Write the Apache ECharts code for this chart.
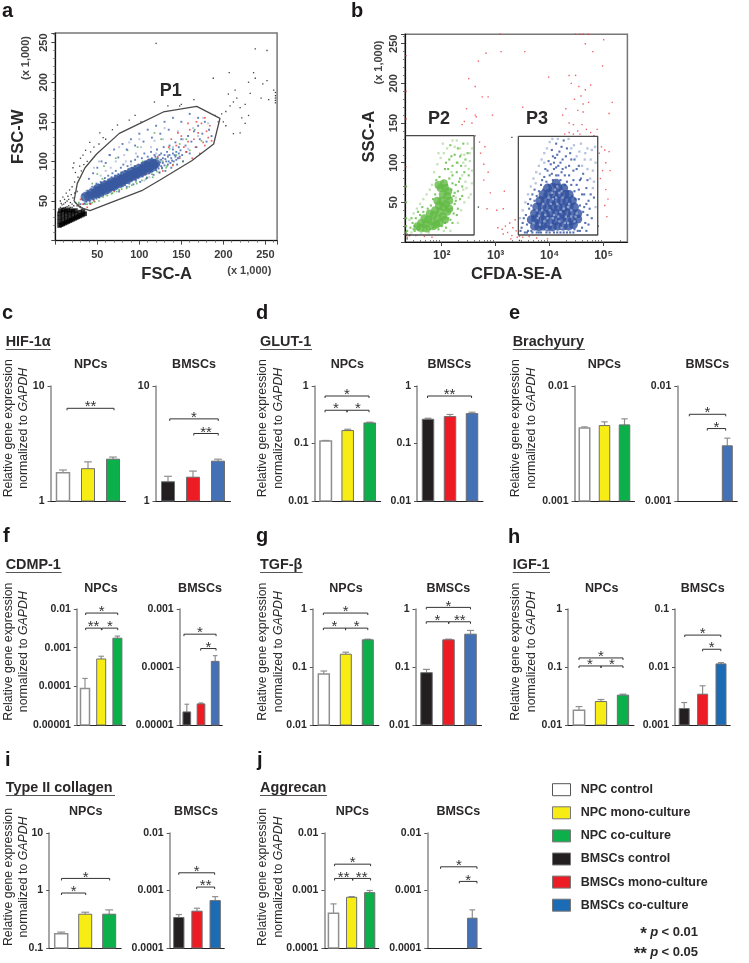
<!DOCTYPE html>
<html><head><meta charset="utf-8">
<style>html,body{margin:0;padding:0;background:#fff}#c{width:749px;height:963px}</style>
<script src="https://cdn.jsdelivr.net/npm/echarts@6/dist/echarts.min.js"></script>
</head><body><div id="c"></div>
<script>
/* ---------- groups ---------- */
const categories=['NPC control','NPC mono-culture','NPC co-culture','BMSCs control','BMSCs mono-culture','BMSCs co-culture'];
/* ---------- bar values and upper error limits ---------- */
const hifNpc=[1.76,1.91,2.31], hifNpcErr=[1.86,2.19,2.41];
const hifBm=[1.47,1.61,2.22], hifBmErr=[1.64,1.82,2.31];
const glutNpc=[0.11,0.168,0.228], glutNpcErr=[0.113,0.177,0.235];
const glutBm=[0.264,0.294,0.331], glutBmErr=[0.275,0.32,0.35];
const braNpc=[0.00432,0.00453,0.00459], braNpcErr=[0.00441,0.00488,0.00518];
const braBm=[null,null,0.00302], braBmErr=[null,null,0.00352];
const cdmpNpc=[0.000088,0.00051,0.00176], cdmpNpcErr=[0.00016,0.0006,0.00199];
const cdmpBm=[0.0000168,0.0000231,0.000125], cdmpBmErr=[0.0000228,0.000024,0.000157];
const tgfNpc=[0.0757,0.166,0.294], tgfNpcErr=[0.0853,0.18,0.302];
const tgfBm=[0.0798,0.294,0.368], tgfBmErr=[0.091,0.302,0.427];
const igfNpc=[0.018,0.0254,0.0327], igfNpcErr=[0.0208,0.0275,0.034];
const igfBm=[0.00192,0.0034,0.0113], igfBmErr=[0.00244,0.00474,0.0119];
const colNpc=[0.177,0.387,0.387], colNpcErr=[0.189,0.419,0.46];
const colBm=[0.000339,0.000437,0.000667], colBmErr=[0.000382,0.000492,0.000782];
const aggNpc=[0.000403,0.000762,0.000918], aggNpcErr=[0.000585,0.000782,0.001];
const aggBm=[null,null,0.00033], aggBmErr=[null,null,0.00046];
/* ---------- significance brackets: from, to (group units), level (share of axis height), stars ---------- */
const hifNpcSig=[[.16,2.04,.806,'**']];
const hifBmSig=[[.07,2.01,.714,'*'],[1.03,2.01,.587,'**']];
const glutNpcSig=[[-.03,1.97,.913,'*'],[-.03,.97,.789,'*'],[.97,1.97,.789,'*']];
const glutBmSig=[[-.02,1.98,.913,'**']];
const braBmSig=[[.1,1.92,.754,'*'],[1,1.92,.63,'*']];
const cdmpNpcSig=[[.04,2.02,.965,'*'],[.04,1.01,.835,'**'],[1.05,2.02,.835,'*']];
const cdmpBmSig=[[-.2,2.06,.783,'*'],[.98,2.06,.659,'*']];
const tgfNpcSig=[[-.02,2,.965,'*'],[-.02,.99,.835,'*'],[.99,2,.835,'*']];
const tgfBmSig=[[-.01,2,1.014,'*'],[-.01,1,.89,'*'],[1.02,2,.89,'**']];
const igfNpcSig=[[0,2,.578,'*'],[0,1,.509,'*'],[1,2,.509,'*']];
const igfBmSig=[[.03,1.99,.775,'*'],[1,1.99,.653,'*']];
const colNpcSig=[[.01,2.02,.605,'*'],[.01,1.02,.478,'*']];
const colBmSig=[[0,1.97,.654,'*'],[.98,1.97,.53,'**']];
const aggNpcSig=[[.06,2.05,.729,'*'],[.06,1.06,.605,'**'],[1.06,2.05,.605,'**']];
const aggBmSig=[[.24,2.26,.706,'*'],[1.28,2.26,.579,'*']];
/* ---------- tick labels ---------- */
const t1_10=['1','10'], t001_1=['0.01','0.1','1'], t0001_001=['0.001','0.01'], t5_2=['0.00001','0.0001','0.001','0.01'],
 t5_3=['0.00001','0.0001','0.001'], t001_01=['0.001','0.01','0.1'], t01_10=['0.1','1','10'], t4_2=['0.0001','0.001','0.01'];
const cfdaMajor=[2,3,4,5], cfdaLabels=['10²','10³','10⁴','10⁵'];
const cfdaMinor=[1.48,1.6,1.7,1.78,1.85,1.9,1.95,2.3,2.48,2.6,2.7,2.78,2.85,2.9,2.95,3.3,3.48,3.6,3.7,3.78,3.85,3.9,3.95,4.3,4.48,4.6,4.7,4.78,4.85,4.9,4.95,5.3];
/* ---------- flow gates ---------- */
const gateP1=[[22.3,50],[26.2,72.3],[35.4,92],[49.2,109.3],[76.2,135.4],[100.8,148],[128.6,162.4],[168.3,169.5],[196,154.4],[188.5,122],[162.4,100.9],[124.6,76.5],[102.8,63],[41.3,37.8],[29.4,42],[22.3,50]];
const gateP2=[[1.33,134],[2.6,134],[2.6,8.8],[1.33,8.8]];
const gateP3=[[3.42,133.3],[4.89,133.3],[4.89,8.8],[3.42,8.8],[3.42,133.3]];
/* ---------- panel a: FSC-A / FSC-W events, estimated by eye ---------- */
const aBlackDense=[[5,19],[7,20],[9,21],[11,22],[13,23],[15,24],[17,25],[19,26],[21,27],[23,28],[25,29],[27,30],[29,31],[31,32],[33,33],[35,34],[5,24],[5,29],[5,34],[9,26],[9,31],[9,36],[13,28],[13,33],[13,37],[17,30],[17,35],[21,32],[21,37],[25,34],[29,36],[33,37],[6,38],[10,39],[15,39],[19,38],[24,38]];
const aBlackSparse=[[6,42],[8,45],[10,41],[12,48],[14,43],[16,52],[18,42],[20,46],[22,44],[24,48],[7,47],[11,52],[15,56],[19,58],[9,55],[13,60],[21,54],[23,60],[17,64],[20,68],[26,62],[23,74],[27,80],[24,86],[31,88],[29,94],[34,96],[30,104],[22,98],[21,92],[38,100],[33,108],[36,114],[42,112],[46,118],[41,124],[52,122],[57,130],[53,136],[68,140],[74,146],[60,128],[88,152],[95,158],[118,175],[102,150],[134,170],[150,172],[165,178],[120,249],[148,170],[198,160],[190,158],[203,163],[208,170],[212,175],[206,185],[216,180],[220,168],[214,190],[226,172],[232,186],[238,205],[230,200],[252,202],[247,198],[238,242],[252,240],[236,212],[207,212],[188,205],[203,145],[212,135],[220,136],[194,150],[245,180],[254,178],[262,174],[262,177],[262,180],[262,183],[262,187],[260,190],[200,150],[222,155],[230,158],[226,148],[8,40],[12,42],[16,44],[20,42],[26,44],[30,43],[32,41],[28,46],[18,48],[6,50],[10,46],[14,50]];
const aPale=[[36,62],[42,66],[48,70],[54,82],[60,88],[66,92],[72,100],[78,86],[84,100],[90,96],[96,110],[102,118],[108,100],[114,118],[120,110],[128,128],[134,108],[140,118],[146,138],[152,128],[158,116],[164,142],[170,132],[176,155],[182,148],[46,92],[52,100],[58,76],[64,108],[70,78],[76,118],[82,108],[88,124],[94,88],[100,128],[106,76],[112,80],[118,126],[124,102],[130,142]];
const aGreen=[[28,48],[32,52],[36,46],[40,62],[44,48],[48,66],[52,54],[56,78],[60,58],[64,76],[68,60],[72,82],[76,64],[80,70],[84,88],[88,68],[92,92],[96,74],[100,84],[104,100],[108,78],[112,90],[116,80],[120,104],[124,86],[128,100],[132,92],[136,116],[140,96],[144,108],[148,122],[152,100],[156,128],[160,114],[166,140],[174,126],[98,118],[86,114],[72,104],[118,136],[126,128],[58,94],[50,84],[44,72],[62,70],[80,82],[94,94],[106,94],[114,102],[122,96],[34,46],[38,46],[42,47],[47,49],[52,50],[57,55],[62,57],[67,59],[73,62],[79,65],[85,66],[91,70],[97,72],[103,76],[109,80],[115,84],[121,87],[127,91],[133,94]];
const aRed=[[28,44],[33,46],[38,42],[46,50],[30,52],[42,46],[62,68],[70,62],[82,72],[95,78],[108,84],[122,106],[128,88],[135,118],[140,95],[144,120],[148,104],[150,132],[153,118],[156,112],[158,125],[160,140],[163,104],[165,128],[167,118],[170,136],[172,110],[174,148],[176,124],[178,120],[180,138],[182,130],[184,145],[186,126],[178,155],[168,150],[158,148],[146,136],[138,128]];
const aBlue=[[30,46],[33,58],[35,47],[38,63],[41,50],[44,68],[46,52],[49,72],[52,55],[54,74],[57,58],[59,79],[62,60],[63,82],[66,62],[68,85],[70,64],[72,88],[74,66],[76,62],[78,92],[79,69],[81,96],[83,70],[85,68],[86,94],[88,72],[90,100],[91,75],[93,71],[95,102],[96,76],[98,106],[99,79],[101,74],[103,104],[104,81],[106,110],[107,83],[109,79],[110,106],[112,85],[114,112],[115,87],[117,83],[118,108],[120,89],[121,115],[123,91],[124,86],[126,110],[127,92],[129,118],[130,95],[131,88],[133,112],[134,96],[136,120],[137,98],[138,92],[140,115],[141,100],[143,124],[144,102],[145,96],[147,118],[148,106],[150,128],[151,108],[152,100],[155,120],[156,112],[158,132],[160,110],[162,125],[165,138],[168,118],[170,145],[172,128],[175,135],[178,150],[180,125],[183,140],[186,132],[40,78],[45,85],[50,92],[55,100],[60,98],[65,108],[70,115],[75,105],[80,122],[85,115],[90,128],[95,120],[100,135],[105,125],[110,140],[115,130],[120,145],[125,135],[130,150],[135,140],[140,155],[150,150],[160,160],[170,155],[122,98],[126,102],[128,104],[132,100],[134,106],[136,108],[138,104],[140,110],[126,94],[124,108],[120,100],[118,102],[130,108],[142,108],[144,112],[110,96],[106,98],[102,94],[98,92],[94,90],[90,88],[86,86],[82,84],[78,82],[74,80],[70,78],[66,76],[62,74],[58,72],[54,70],[50,68],[46,64],[42,60],[48,55],[56,60],[64,64],[72,68],[80,73],[88,76],[96,81],[104,85],[112,89],[120,94],[128,98],[131,103],[135,100],[139,101],[143,106],[147,110],[149,114],[146,104],[125,99],[122,104],[119,106],[115,104],[111,102],[107,100],[103,98],[99,96],[95,94],[91,92],[87,90],[83,88],[79,86],[75,84],[71,82],[67,80],[63,77],[59,75],[55,73],[51,71],[47,68],[43,65],[39,60],[37,49],[41,47],[45,52],[49,53],[53,57],[58,61],[63,62],[68,66],[73,69],[77,70],[82,75],[87,77],[92,78],[97,82],[102,84],[107,87],[113,90],[118,92],[123,96]];
const aBlueDense=[[36,55],[40,56],[43,59],[47,59],[50,62],[54,63],[57,66],[61,67],[64,69],[68,70],[71,73],[75,74],[78,76],[82,77],[85,80],[88,81],[92,83],[95,85],[98,86],[102,88],[105,90],[108,92],[112,93],[116,96],[119,97]];
const aBlueCore=[[52,63],[60,67],[68,71],[76,75],[84,80],[92,84],[100,88],[108,92],[114,95]];
/* ---------- panel b: CFDA-SE-A (log10) / SSC-A events, estimated by eye ---------- */
const bGreenDense=[[1.55,20],[1.62,24],[1.7,22],[1.75,28],[1.82,26],[1.85,34],[1.92,30],[1.88,40],[1.97,38],[2.02,32],[1.95,46],[2.03,44],[2,52],[2.08,48],[2.02,60],[2.1,58],[1.98,68],[2.06,68],[1.94,72],[1.68,30],[1.78,36],[2.1,38],[1.9,22],[2.14,52],[1.6,18],[1.72,17],[1.84,20],[1.96,24],[2.06,28],[2.14,42],[2.12,64],[2.04,74],[1.92,52]];
const bGreenMid=[[1.36,14],[1.42,18],[1.46,24],[1.5,14],[1.52,30],[1.58,16],[1.6,34],[1.65,14],[1.66,38],[1.72,16],[1.74,42],[1.78,16],[1.8,46],[1.84,18],[1.84,54],[1.88,60],[1.9,78],[1.94,16],[1.96,82],[2,20],[2.02,76],[2.06,24],[2.1,72],[2.12,30],[2.14,80],[2.18,42],[2.18,66],[2.22,58],[2.24,48],[2.26,72],[2.28,88],[2.3,64],[2.34,80],[2.36,96],[2.38,70],[2.42,88],[2.44,104],[2.2,96],[2.14,104],[2.06,92],[2.3,118],[2.24,110],[2.16,122],[2.4,124],[2.48,112],[2.5,84],[2.34,54],[2.28,34],[2.2,24],[1.34,50],[1.34,30],[1.34,70],[1.34,20],[1.34,12],[2.2,74],[2.24,62],[2.18,56],[2.22,36],[2.26,52],[2.3,42],[2.16,28],[2.08,18],[2.32,76],[2.38,58],[2.2,84],[2.12,92],[2.28,100],[2.34,108],[2.18,108],[2.08,100],[1.5,20],[1.44,30],[1.56,38],[1.48,16],[1.64,44]];
const bGreenPale=[[1.4,28],[1.44,12],[1.48,36],[1.54,42],[1.6,48],[1.66,54],[1.72,60],[1.78,66],[1.82,72],[1.86,88],[1.92,98],[1.98,106],[2.04,112],[2.1,118],[2.2,128],[2.28,128],[2.36,110],[2.44,96],[2.52,102],[2.56,74],[2.54,60],[2.46,68],[2.42,50],[2.36,40],[2.3,24],[2.16,14],[2.04,14],[1.76,12],[1.62,12],[2.48,124],[2.56,118],[2.18,88],[2.3,100],[2.38,84],[2.5,92],[2.26,56],[2.44,76],[2.5,56],[2.4,66],[2.34,118],[2.42,110],[2.24,120],[2.02,124],[1.94,112],[2.56,90],[2.52,112],[2.4,100]];
const bBlueDense=[[3.72,20],[3.8,19],[3.88,20],[3.96,19],[4.05,19],[4.15,20],[4.25,20],[4.35,20],[4.44,22],[3.66,28],[3.74,29],[3.82,27],[3.92,29],[4.02,28],[4.12,27],[4.22,29],[4.32,28],[4.42,27],[4.52,29],[3.72,36],[3.82,37],[3.92,35],[4.02,37],[4.12,36],[4.22,35],[4.32,37],[4.42,36],[4.52,36],[3.76,44],[3.86,45],[3.96,43],[4.06,45],[4.16,44],[4.26,43],[4.36,45],[4.46,44],[3.82,52],[3.92,53],[4.02,51],[4.12,53],[4.22,52],[4.32,52],[4.42,52],[3.88,60],[3.98,61],[4.08,59],[4.18,61],[4.28,60],[4.36,60],[3.96,68],[4.06,69],[4.16,68],[4.26,68],[4.12,74]];
const bBlueMid=[[3.46,14],[3.5,24],[3.54,12],[3.56,34],[3.6,14],[3.62,42],[3.66,46],[3.68,12],[3.72,52],[3.76,12],[3.76,58],[3.8,64],[3.84,72],[3.84,12],[3.88,66],[3.9,82],[3.94,76],[3.94,12],[3.96,90],[4,84],[4.02,98],[4,12],[4.06,78],[4.08,92],[4.1,106],[4.12,84],[4.14,12],[4.16,96],[4.18,114],[4.2,78],[4.22,88],[4.24,104],[4.26,12],[4.28,72],[4.3,94],[4.32,118],[4.34,64],[4.36,84],[4.38,12],[4.4,104],[4.42,58],[4.44,78],[4.46,16],[4.48,54],[4.5,92],[4.52,14],[4.54,66],[4.56,46],[4.58,80],[4.6,18],[4.62,38],[4.64,60],[4.66,24],[4.68,48],[4.7,34],[4.74,42],[4.78,30],[4.82,56],[4.12,124],[4.26,128],[4.04,116],[3.48,18],[3.52,30],[3.58,22],[3.6,48],[3.64,54],[3.68,60],[3.72,66],[3.78,48],[3.82,56],[3.86,78],[3.9,60],[3.92,92],[3.98,72],[4.04,86],[4.08,100],[4.12,94],[4.16,84],[4.2,100],[4.24,92],[4.28,84],[4.32,76],[4.36,96],[4.4,72],[4.44,90],[4.46,64],[4.5,72],[4.54,54],[4.56,78],[4.6,60],[4.64,44],[4.68,68],[4.72,52],[4.76,60],[4.14,110],[4.22,120],[4.3,108],[4.38,112],[4.06,108],[3.98,102],[4.46,104],[4.54,96],[4.62,86],[4.7,78],[4.68,14],[4.72,22],[3.58,12],[3.66,14],[3.8,12],[4.08,12],[4.2,12],[4.32,12],[4.44,12],[4.56,14]];
const bBluePale=[[3.45,30],[3.5,40],[3.55,50],[3.6,60],[3.65,70],[3.7,80],[3.75,88],[3.8,96],[3.85,104],[3.9,112],[3.95,118],[4,126],[4.05,130],[4.15,130],[4.35,130],[4.45,122],[4.55,114],[4.65,104],[4.7,92],[4.75,80],[4.8,68],[4.85,100],[4.85,44],[4.84,120],[4.6,96],[4.5,108],[4.4,118],[4.7,118],[3.7,24],[3.78,30],[3.9,26],[4.02,22],[4.16,32],[4.28,24],[4.4,32],[3.86,40],[4,40],[4.14,48],[4.26,42],[4.36,48],[4.06,54],[4.18,62],[3.96,30],[4.22,18],[4.5,36],[3.82,22],[3.94,16],[4.08,34],[4.2,38],[4.34,24],[4.46,26],[3.76,40],[3.88,48],[4.02,48],[4.12,56],[4.24,56],[4.34,44],[4.1,66],[3.98,56],[4.8,90],[4.76,104],[4.82,76],[4.78,116],[4.66,112],[4.58,124],[3.74,74],[3.82,86],[3.9,100],[4.04,62],[4.14,70],[4.22,64],[3.92,34],[4.06,30],[4.3,32],[4.18,26],[3.8,33],[4.4,40],[4.48,32]];
const bRed=[[2.62,134],[2.7,126],[2.72,112],[2.8,120],[2.78,98],[2.86,88],[2.78,78],[2.9,62],[2.84,42],[3.02,40],[3.14,42],[3.16,64],[3.04,18],[3.12,16],[3.18,20],[3.22,12],[3.26,24],[3.3,8],[3.32,18],[3.36,28],[3.38,14],[3.4,6],[3.28,4],[3.14,10],[3.44,7],[3.5,6],[3.62,7],[3.76,5],[3.96,4],[2.5,206],[2.62,196],[2.75,183],[2.62,160],[2.46,168],[2.42,152],[2.38,148],[2.56,150],[2.64,158],[2.86,183],[2.94,160],[3.1,240],[3.54,240],[3.5,170],[2.82,238],[2.68,228],[3.08,262],[4.48,262],[4.56,262],[4.62,262],[4.72,262],[4.66,250],[5,255],[4.8,240],[4.98,222],[3.98,208],[4.36,210],[4.48,210],[4.4,200],[4.54,196],[4.66,192],[4.76,198],[4.58,184],[4.62,174],[4.72,176],[4.46,180],[4.52,166],[4.62,164],[4.3,168],[4.24,160],[4.36,150],[4.44,148],[4.52,140],[4.6,148],[4.56,136],[4.68,142],[4.76,138],[4.82,134],[4.88,142],[4.36,138],[4.28,136],[4.44,136],[4.96,120],[5.02,116],[5.1,114],[4.92,112],[5.04,100],[4.98,90],[5.12,90],[4.94,80],[5.04,66],[5.08,54],[5.02,46],[5.06,32],[1.34,95],[1.34,155],[1.34,235],[1.34,190],[1.36,10],[1.36,6],[1.42,9],[1.52,8],[1.68,7],[1.82,6],[5.1,162],[5.16,176]];
const bBlack=[[1.36,4],[1.34,8],[1.4,8],[3.3,132],[4.9,20],[2.68,44],[3.44,2]];
/* ---------- colours ---------- */
const white='#ffffff',yellow='#f7ec13',green='#0cb04a',black='#231f20',red='#ed1c24',blue='#4470b5',blueDeep='#1c6bb5';
const npcColors=[white,yellow,green], bmColors=[black,red,blue], bmDeep=[black,red,blueDeep];
const legendColors=[white,yellow,green,black,red,blueDeep];
const INK='#2a2829', FF='"Liberation Sans",Arial,sans-serif';
/* ---------- panel layout ---------- */
const panels=[
 {v:hifNpc,e:hifNpcErr,s:hifNpcSig,t:t1_10,min:1,max:10,c0:63,d:25,w:13,top:386,bot:501,col:npcColors},
 {v:hifBm,e:hifBmErr,s:hifBmSig,t:t1_10,min:1,max:10,c0:168,d:25,w:13,top:386,bot:501,col:bmColors},
 {v:glutNpc,e:glutNpcErr,s:glutNpcSig,t:t001_1,min:.01,max:1,c0:325.7,d:22,w:11.5,top:386,bot:501,col:npcColors},
 {v:glutBm,e:glutBmErr,s:glutBmSig,t:t001_1,min:.01,max:1,c0:428,d:22,w:11.5,top:386,bot:501,col:bmColors},
 {v:braNpc,e:braNpcErr,s:[],t:t0001_001,min:.001,max:.01,c0:584.5,d:20,w:10.5,top:386,bot:501,col:npcColors},
 {v:braBm,e:braBmErr,s:braBmSig,t:t0001_001,min:.001,max:.01,c0:687.3,d:20,w:10,top:386,bot:501,col:bmColors},
 {v:cdmpNpc,e:cdmpNpcErr,s:cdmpNpcSig,t:t5_2,min:.00001,max:.01,c0:85,d:16.2,w:9,top:609,bot:725,col:npcColors},
 {v:cdmpBm,e:cdmpBmErr,s:cdmpBmSig,t:t5_3,min:.00001,max:.001,c0:186.8,d:14.2,w:7.7,top:609,bot:725,col:bmColors},
 {v:tgfNpc,e:tgfNpcErr,s:tgfNpcSig,t:t001_1,min:.01,max:1,c0:323.8,d:22,w:11,top:609,bot:725,col:npcColors},
 {v:tgfBm,e:tgfBmErr,s:tgfBmSig,t:t001_1,min:.01,max:1,c0:426.5,d:22,w:11.5,top:609,bot:725,col:bmColors},
 {v:igfNpc,e:igfNpcErr,s:igfNpcSig,t:t001_1,min:.01,max:1,c0:579,d:22,w:11.3,top:609,bot:725,col:npcColors},
 {v:igfBm,e:igfBmErr,s:igfBmSig,t:t001_01,min:.001,max:.1,c0:684.2,d:18.4,w:10,top:609,bot:725,col:bmDeep},
 {v:colNpc,e:colNpcErr,s:colNpcSig,t:t01_10,min:.1,max:10,c0:61.2,d:24,w:13,top:833,bot:948,col:npcColors},
 {v:colBm,e:colBmErr,s:colBmSig,t:t4_2,min:.0001,max:.01,c0:178.8,d:18.2,w:10.3,top:833,bot:948,col:bmDeep},
 {v:aggNpc,e:aggNpcErr,s:aggNpcSig,t:t4_2,min:.0001,max:.01,c0:333.5,d:18.1,w:10.2,top:833,bot:948,col:npcColors},
 {v:aggBm,e:aggBmErr,s:aggBmSig,t:t4_2,min:.0001,max:.01,c0:436.3,d:18,w:9.5,top:833,bot:948,col:bmColors}
];
const grids=[],xAxes=[],yAxes=[],series=[];
/* flow panels */
const flowLabel={color:'#3a3a3a',fontFamily:FF,fontWeight:'bold',fontSize:11,showMinLabel:false};
function linAxis(extra){return Object.assign({type:'value',min:0,max:262,interval:50,splitLine:{show:false},
 axisLine:{onZero:false,lineStyle:{color:'#111',width:1.2}},axisTick:{length:4,lineStyle:{color:'#444'}},
 minorTick:{show:true,splitNumber:5,length:2,lineStyle:{color:'#777'}}},extra);}
grids.push({left:55.3,top:33.1,width:221.8,height:207.5,show:true,borderColor:'#777',borderWidth:1.5,backgroundColor:'#fff'});
xAxes.push(linAxis({gridIndex:0,max:264,axisLabel:Object.assign({margin:9},flowLabel)}));
yAxes.push(linAxis({gridIndex:0,axisLabel:Object.assign({rotate:90,margin:6},flowLabel)}));
grids.push({left:405,top:34.2,width:222.4,height:207.8,show:true,borderColor:'#777',borderWidth:1.5,backgroundColor:'#fff'});
xAxes.push({type:'value',gridIndex:1,min:1.32,max:5.44,splitLine:{show:false},axisLine:{onZero:false,lineStyle:{color:'#111',width:1.2}},
 axisTick:{customValues:cfdaMajor,length:4,lineStyle:{color:'#444'}},
 axisLabel:Object.assign({},flowLabel,{customValues:cfdaMajor,margin:8,formatter:v=>cfdaLabels[cfdaMajor.indexOf(v)],fontSize:12,showMinLabel:true})});
xAxes.push({type:'value',gridIndex:1,min:1.32,max:5.44,splitLine:{show:false},axisLine:{show:false},
 axisTick:{customValues:cfdaMinor,length:2,lineStyle:{color:'#777'}},axisLabel:{show:false}});
yAxes.push(linAxis({gridIndex:1,axisLabel:Object.assign({rotate:90,margin:6},flowLabel)}));
function dots(name,grid,xi,data,color,size,shape,z){series.push({name,type:'scatter',xAxisIndex:xi,yAxisIndex:grid,data,symbol:shape||'rect',symbolSize:size,
 itemStyle:{color},silent:true,animation:false,clip:true,z:z||2});}
function gate(name,grid,xi,data){series.push({name,type:'line',xAxisIndex:xi,yAxisIndex:grid,data,symbol:'none',silent:true,
 lineStyle:{color:'#4a4a4a',width:1.3},z:5});}
dots('a sparse',0,0,aBlackSparse,'#111',1.3);
dots('a pale',0,0,aPale,'#aebbd6',2);
dots('a green',0,0,aGreen,'#4fae4a',1.7);
dots('a blue',0,0,aBlue,'#3c5fae',1.9);
dots('a red',0,0,aRed,'#e8383d',1.7);
dots('a black',0,0,aBlackDense,'#000',4.5);
dots('a core',0,0,aBlueDense,'#38599f',10,'circle');
dots('a core wide',0,0,aBlueCore,'#38599f',14,'circle');
gate('P1',0,0,gateP1);
dots('b green pale',1,1,bGreenPale,'#b6dca6',2.3);
dots('b green mid',1,1,bGreenMid,'#5cb83f',2.1);
dots('b green',1,1,bGreenDense,'#62ba45',8,'circle');
dots('b blue mid',1,1,bBlueMid,'#2e4fa0',2.1);
dots('b blue',1,1,bBlueDense,'#2f4f9e',9,'circle');
dots('b blue pale',1,1,bBluePale,'#a4b4d6',2.3,'rect',3);
dots('b red',1,1,bRed,'#ee3b42',1.4);
dots('b black',1,1,bBlack,'#111',1.3);
gate('P2',1,1,gateP2);gate('P3',1,1,gateP3);
/* bar panels */
panels.forEach(p=>{
 const gi=grids.length, xi=xAxes.length;
 grids.push({left:p.c0-p.d/2,width:p.d*3,top:p.top,height:p.bot-p.top});
 xAxes.push({type:'value',gridIndex:gi,min:-.5,max:2.5,show:true,splitLine:{show:false},axisTick:{show:false},axisLabel:{show:false},
  axisLine:{onZero:false,lineStyle:{color:'#231f20',width:1}}});
 yAxes.push({type:'log',logBase:10,gridIndex:gi,min:p.min,max:p.max,splitLine:{show:false},minorTick:{show:false},
  axisLine:{show:true,onZero:false,lineStyle:{color:'#8a8a8a',width:1.5}},axisTick:{show:true,length:3,lineStyle:{color:'#555'}},
  axisLabel:{margin:6,color:INK,fontFamily:FF,fontWeight:'bold',fontSize:10.5,showMinLabel:true,showMaxLabel:true,
   formatter:v=>p.t[Math.round(Math.log10(v/p.min))]}});
 const barData=p.v.map((v,i)=>v==null?null:[i,v,p.e[i]]).filter(Boolean);
 series.push({type:'custom',xAxisIndex:xi,yAxisIndex:gi,data:barData,clip:false,silent:true,animation:false,z:3,
  encode:{x:0,y:1},
  renderItem:(params,api)=>{
   const i=api.value(0),top=api.coord([i,api.value(1)]),base=api.coord([i,p.min]),err=api.coord([i,api.value(2)]);
   const cx=top[0],w=p.w,fill=p.col[i];
   const grey={stroke:'#8f8f8f',lineWidth:1.2};
   return {type:'group',children:[
    {type:'line',shape:{x1:cx,y1:top[1],x2:cx,y2:err[1]},style:grey},
    {type:'line',shape:{x1:cx-w*.3,y1:err[1],x2:cx+w*.3,y2:err[1]},style:grey},
    {type:'rect',shape:{x:cx-w/2,y:top[1],width:w,height:base[1]-top[1]},
     style:{fill,stroke:fill===white?'#8f8f8f':'#6d6e71',lineWidth:fill===white?1.5:1}}
   ]};
  }});
 if(p.s.length) series.push({type:'custom',xAxisIndex:xi,yAxisIndex:gi,data:p.s.map(b=>[b[0],b[1],b[2]]),clip:false,silent:true,animation:false,z:4,
  encode:{x:[0,1]},
  renderItem:(params,api)=>{
   const b=p.s[params.dataIndex],val=p.min*Math.pow(p.max/p.min,b[2]);
   const L=api.coord([b[0],val]),R=api.coord([b[1],val]),y=L[1];
   return {type:'group',children:[
    {type:'polyline',shape:{points:[[L[0],y+2],[L[0],y],[R[0],y],[R[0],y+2]]},style:{fill:'none',stroke:'#333',lineWidth:1}},
    {type:'text',style:{text:b[3],x:(L[0]+R[0])/2,y:y-1,textAlign:'center',textVerticalAlign:'middle',font:'15px '+FF,fill:'#333'}}
   ]};
  }});
});
/* ---------- text and decoration ---------- */
const g=[];
function T(x,y,text,font,o){o=o||{};g.push({type:'text',x,y,rotation:o.rot||0,silent:true,z:20,
 style:Object.assign({text,font,fill:o.fill||INK,align:o.align||'center',textAlign:o.align||'center',verticalAlign:o.va||'middle',textVerticalAlign:o.va||'middle'},o.style||{})});}
const PANEL='bold 20px '+FF;
[['a',2,11.5],['b',351,11.5],['c',2,313],['d',256,313],['e',509,313],['f',3,536],['g',256,536],['h',508,537],['i',5,760],['j',257,760]]
 .forEach(a=>T(a[1],a[2],a[0],PANEL,{align:'left',fill:'#1a1718'}));
const GENE='bold 14.4px '+FF;
[['HIF-1α',5.7,50.7,347],['GLUT-1',260,312,347],['Brachyury',512.7,585,347],['CDMP-1',5.7,61.7,570],['TGF-β',260,302.7,570],['IGF-1',512.7,550,570],['Type II collagen',5.7,115,793],['Aggrecan',260,327,793]]
 .forEach(a=>{T(a[1],a[3]-5,a[0],GENE,{align:'left'});
  g.push({type:'line',silent:true,z:20,shape:{x1:a[1],y1:a[3]+2.5,x2:a[2],y2:a[3]+2.5},style:{stroke:'#555',lineWidth:1}});});
const SUB='bold 12.5px '+FF;
[[90.7,194,365],[347.3,449.3,365],[604.3,707.3,365],[101,200,588.3],[346,448.3,588.3],[601.7,702.7,588.3],[85.7,196,812],[352.3,458.3,812]]
 .forEach(a=>{T(a[0],a[2],'NPCs',SUB);T(a[1],a[2],'BMSCs',SUB);});
const YL='12.3px '+FF;
[[9,23.3,428.3],[262.3,278.3,428.3],[515.7,531.7,428.3],[8.3,23.3,651.7],[262.3,278.3,651.7],[515.7,531.7,651.7],[8.3,23.3,877],[262.3,278.3,877]]
 .forEach(a=>{T(a[0],a[2],'Relative gene expression',YL,{rot:Math.PI/2});
  T(a[1],a[2],'{n|normalized to }{i|GAPDH}','',{rot:Math.PI/2,style:{rich:{n:{font:YL,fill:INK},i:{font:'italic '+YL,fill:INK}}}});});
const AX='bold 16.6px '+FF, XK='bold 11px '+FF, rot=Math.PI/2;
T(166.7,274.3,'FSC-A',AX);T(18.3,136.7,'FSC-W',AX,{rot});T(249.3,270.7,'(x 1,000)',XK,{fill:'#444'});T(26,58,'(x 1,000)',XK,{rot,fill:'#444'});
T(516.7,274.3,'CFDA-SE-A',AX);T(369.3,136.7,'SSC-A',AX,{rot});T(379,62.5,'(x 1,000)',XK,{rot,fill:'#444'});
const PF='bold 18px '+FF;
T(170.7,91.3,'P1',PF);T(439,118.7,'P2',PF);T(537,118.7,'P3',PF);
/* legend */
categories.forEach((c,i)=>{
 const y=789.7+i*23.1;
 g.push({type:'rect',silent:true,z:20,shape:{x:552.5,y:y-6,width:18,height:12},style:{fill:legendColors[i],stroke:i===0?'#555':'#777',lineWidth:1}});
 T(580.7,y,c,SUB,{align:'left'});
});
const R={font:'bold 13px '+FF,fill:INK},I={font:'italic bold 13px '+FF,fill:INK},S={font:'bold 17px '+FF,fill:INK,padding:[5,0,0,0]};
T(698,932,'{s|*} {i|p} {r|< 0.01}','',{align:'right',style:{rich:{s:S,i:I,r:R}}});
T(698,952,'{s|**} {i|p} {r|< 0.05}','',{align:'right',style:{rich:{s:S,i:I,r:R}}});

const chart=echarts.init(document.getElementById('c'),null,{renderer:'canvas'});
chart.setOption({animation:false,backgroundColor:'#fff',tooltip:{show:false},grid:grids,xAxis:xAxes,yAxis:yAxes,series,graphic:{elements:g}});
</script></body></html>
